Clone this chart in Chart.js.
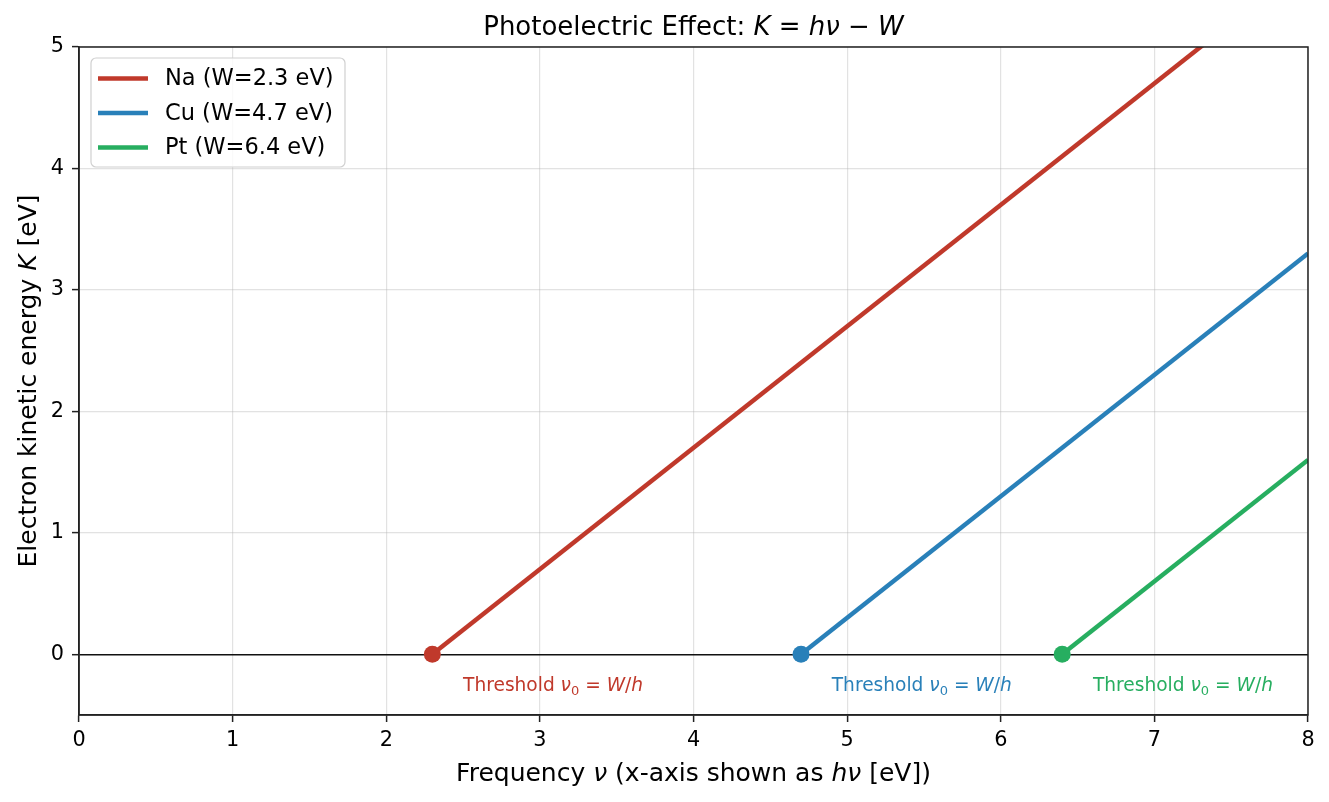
<!DOCTYPE html>
<html><head><meta charset="utf-8">
<script src="https://cdn.jsdelivr.net/npm/chart.js@4/dist/chart.umd.min.js"></script>
<style>html,body{margin:0;padding:0;background:#fff;}#wrap{width:1329px;height:802px;}</style>
</head><body><div id="wrap"><canvas id="c" width="1329" height="802"></canvas></div>
<script>
// ---- data ----
const metals = ['Na', 'Cu', 'Pt'];
const workFunctions = [2.3, 4.7, 6.4];
const seriesLabels = ['Na (W=2.3 eV)', 'Cu (W=4.7 eV)', 'Pt (W=6.4 eV)'];
const seriesColors = ['#c0392b', '#2980b9', '#27ae60'];
const naX = [2.3, 8.0];
const naK = [0, 5.7];
const cuX = [4.7, 8.0];
const cuK = [0, 3.3];
const ptX = [6.4, 8.0];
const ptK = [0, 1.6];
const xTicks = [0, 1, 2, 3, 4, 5, 6, 7, 8];
const yTicks = [0, 1, 2, 3, 4, 5];
const xRange = [0, 8];
const yRange = [-0.5, 5];
const labelOffsetX = 0.2;
const labelY = -0.25;

const FONT = '"DejaVu Sans", "Liberation Sans", sans-serif';
const seriesX = [naX, cuX, ptX];
const seriesK = [naK, cuK, ptK];

const datasets = metals.map((m, i) => ({
  label: seriesLabels[i],
  data: seriesX[i].map((x, j) => ({ x: x, y: seriesK[i][j] })),
  borderColor: seriesColors[i],
  backgroundColor: seriesColors[i],
  borderWidth: 4.5,
  pointRadius: seriesX[i].map((x, j) => j === 0 ? 8.5 : 0),
  pointHoverRadius: 0,
  pointBorderWidth: 0,
  pointBackgroundColor: seriesColors[i],
  borderCapStyle: 'butt',
  clip: 0,
  fill: false,
  tension: 0
}));

function fontOf(s, size) {
  const sz = s.sub ? size * 0.7 : size;
  return (s.it ? 'italic ' : '') + sz + 'px ' + FONT;
}
function richWidth(ctx, segs, size) {
  let w = 0;
  for (const s of segs) { ctx.font = fontOf(s, size); w += ctx.measureText(s.t).width; }
  return w;
}
function drawRich(ctx, segs, x, y, size, align, color) {
  const w = richWidth(ctx, segs, size);
  let cx = align === 'center' ? x - w / 2 : x;
  ctx.fillStyle = color;
  ctx.textBaseline = 'alphabetic';
  ctx.textAlign = 'left';
  for (const s of segs) {
    ctx.font = fontOf(s, size);
    ctx.fillText(s.t, cx, y + (s.sub ? size * 0.22 : 0));
    cx += ctx.measureText(s.t).width;
  }
}

const titleSegs = [{ t: 'Photoelectric Effect: ' }, { t: 'K', it: 1 }, { t: ' = ' }, { t: 'hν', it: 1 }, { t: ' − ' }, { t: 'W', it: 1 }];
const xLabelSegs = [{ t: 'Frequency ' }, { t: 'ν', it: 1 }, { t: ' (x-axis shown as ' }, { t: 'hν', it: 1 }, { t: ' [eV])' }];
const yLabelSegs = [{ t: 'Electron kinetic energy ' }, { t: 'K', it: 1 }, { t: ' [eV]' }];
const annSegs = [{ t: 'Threshold ' }, { t: 'ν', it: 1 }, { t: '0', sub: 1 }, { t: ' = ' }, { t: 'W', it: 1 }, { t: '/' }, { t: 'h', it: 1 }];

const decor = {
  id: 'decor',
  afterDatasetsDraw(chart) {
    const ctx = chart.ctx, a = chart.chartArea;
    const xs = chart.scales.x, ys = chart.scales.y;
    ctx.save();
    // spines
    ctx.strokeStyle = '#222';
    ctx.lineWidth = 1.5;
    ctx.strokeRect(a.left, a.top, a.right - a.left, a.bottom - a.top);
    // threshold annotations
    workFunctions.forEach((w, i) => {
      drawRich(ctx, annSegs, xs.getPixelForValue(w + labelOffsetX), ys.getPixelForValue(labelY) + 6.5, 18.6, 'left', seriesColors[i]);
    });
    // title
    drawRich(ctx, titleSegs, (a.left + a.right) / 2, 35, 26, 'center', '#000');
    // x label
    drawRich(ctx, xLabelSegs, (a.left + a.right) / 2, 781, 25, 'center', '#000');
    // y label
    ctx.save();
    ctx.translate(36, (a.top + a.bottom) / 2);
    ctx.rotate(-Math.PI / 2);
    drawRich(ctx, yLabelSegs, 0, 0, 25, 'center', '#000');
    ctx.restore();
    // legend
    const lx = 91, ly = 58, lw = 254, lh = 109;
    ctx.beginPath();
    ctx.roundRect(lx, ly, lw, lh, 5);
    ctx.fillStyle = 'rgba(255,255,255,0.85)';
    ctx.fill();
    ctx.strokeStyle = '#d0d0d0';
    ctx.lineWidth = 1.2;
    ctx.stroke();
    const rows = [78.5, 113, 147.5];
    seriesLabels.forEach((lab, i) => {
      ctx.strokeStyle = seriesColors[i];
      ctx.lineWidth = 4.5;
      ctx.beginPath();
      ctx.moveTo(98, rows[i]);
      ctx.lineTo(148, rows[i]);
      ctx.stroke();
      ctx.fillStyle = '#000';
      ctx.font = '22.5px ' + FONT;
      ctx.textBaseline = 'middle';
      ctx.textAlign = 'left';
      ctx.fillText(lab, 165, rows[i] + 1);
    });
    ctx.restore();
  }
};

new Chart(document.getElementById('c'), {
  type: 'line',
  data: { datasets: datasets },
  options: {
    responsive: false,
    animation: false,
    devicePixelRatio: 1,
    layout: { padding: { left: 0, top: 47, right: 21, bottom: 0 } },
    plugins: { legend: { display: false }, title: { display: false }, tooltip: { enabled: false } },
    scales: {
      x: {
        type: 'linear', min: xRange[0], max: xRange[1],
        afterBuildTicks: s => { s.ticks = xTicks.map(v => ({ value: v })); },
        afterFit: s => { s.height = 87; },
        grid: { color: 'rgba(176,176,176,0.36)', lineWidth: 1.2, drawTicks: true, tickLength: 7, tickColor: '#222', tickWidth: 1.5 },
        border: { color: '#222', width: 1.5 },
        ticks: { color: '#000', font: { family: FONT, size: 20.8 }, padding: 6, maxRotation: 0, autoSkip: false, callback: v => String(v) }
      },
      y: {
        type: 'linear', min: yRange[0], max: yRange[1],
        afterBuildTicks: s => { s.ticks = yTicks.map(v => ({ value: v })); },
        afterFit: s => { s.width = 79; },
        grid: {
          color: c => (c.tick && c.tick.value === 0) ? '#111' : 'rgba(176,176,176,0.36)',
          lineWidth: c => (c.tick && c.tick.value === 0) ? 1.4 : 1.2,
          drawTicks: true, tickLength: 7, tickColor: '#222', tickWidth: 1.5
        },
        border: { color: '#222', width: 1.5 },
        ticks: { color: '#000', font: { family: FONT, size: 20.8 }, padding: 8, autoSkip: false, callback: v => String(v) }
      }
    }
  },
  plugins: [decor]
});
</script></body></html>
